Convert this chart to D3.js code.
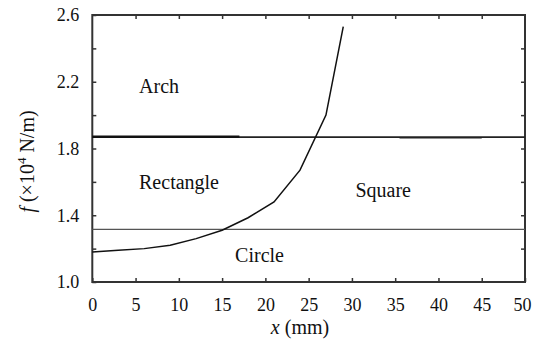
<!DOCTYPE html>
<html>
<head>
<meta charset="utf-8">
<script src="https://cdn.jsdelivr.net/npm/d3@7"></script>
<style>
  body { margin: 0; background: #fff; }
  svg text { fill: #111; }
</style>
</head>
<body>
<script>
// force vs. displacement curve
let xs = [0, 3, 6, 9, 12, 15, 18, 21, 24, 27, 29];
let fs = [1.18, 1.19, 1.2, 1.22, 1.26, 1.31, 1.385, 1.48, 1.67, 2.0, 2.53];

// region boundaries
let upperBound = 1.868;
let lowerBound = 1.315;

// region labels
let regionNames = ["Arch", "Rectangle", "Square", "Circle"];
let regionX = [5.4, 5.4, 30.4, 16.5];
let regionY = [2.132, 1.555, 1.511, 1.122];

let xTicks = [0, 5, 10, 15, 20, 25, 30, 35, 40, 45, 50];
let yTicks = [1.0, 1.2, 1.4, 1.6, 1.8, 2.0, 2.2, 2.4, 2.6];
let yLabels = [1.0, 1.4, 1.8, 2.2, 2.6];

const W = 533, H = 342;
const mLeft = 92.3, mRight = 525, mTop = 15, mBottom = 282;
const serif = '"Liberation Serif", "Tinos", "Times New Roman", "DejaVu Serif", serif';

let svg = d3.select("body")
    .append("svg")
    .attr("width", W)
    .attr("height", H);

let x = d3.scaleLinear().domain([0, 50]).range([mLeft, mRight]);
let y = d3.scaleLinear().domain([1.0, 2.6]).range([mBottom, mTop]);

// axes with inward ticks
let axisColor = "#333";
svg.append("g")
    .attr("transform", `translate(0,${mBottom})`)
    .call(d3.axisBottom(x).tickValues(xTicks).tickSizeInner(-4).tickSizeOuter(0).tickPadding(16).tickFormat(d3.format("d")))
    .call(g => g.select(".domain").remove())
    .call(g => g.selectAll(".tick:last-of-type text").attr("dx", -3));
svg.append("g")
    .attr("transform", `translate(0,${mTop})`)
    .call(d3.axisTop(x).tickValues(xTicks.slice(1, -1)).tickSizeInner(-4).tickSizeOuter(0).tickFormat(""))
    .call(g => g.select(".domain").remove());
svg.append("g")
    .attr("transform", `translate(${mLeft},0)`)
    .call(d3.axisLeft(y).tickValues(yTicks).tickSizeInner(-4).tickSizeOuter(0).tickPadding(13)
        .tickFormat(d => yLabels.some(v => Math.abs(v - d) < 1e-9) ? d3.format(".1f")(d) : ""))
    .call(g => g.select(".domain").remove());
svg.append("g")
    .attr("transform", `translate(${mRight},0)`)
    .call(d3.axisRight(y).tickValues(yTicks.slice(1, -1)).tickSizeInner(-4).tickSizeOuter(0).tickFormat(""))
    .call(g => g.select(".domain").remove());

svg.selectAll("g").attr("font-family", serif);
svg.selectAll(".tick line").attr("stroke", axisColor).attr("stroke-width", 1.5);
svg.selectAll(".tick text")
    .attr("font-size", 18)
    .style("font-family", serif)
    .attr("fill", "#111");

// frame
svg.append("rect")
    .attr("x", mLeft).attr("y", mTop)
    .attr("width", mRight - mLeft).attr("height", mBottom - mTop)
    .attr("fill", "none")
    .attr("stroke", axisColor)
    .attr("stroke-width", 2);

// boundaries
svg.append("line")
    .attr("x1", x(0)).attr("x2", x(50))
    .attr("y1", y(upperBound)).attr("y2", y(upperBound))
    .attr("stroke", "#222").attr("stroke-width", 1.6);
svg.append("line")
    .attr("x1", x(0)).attr("x2", x(17))
    .attr("y1", y(upperBound + 0.002)).attr("y2", y(upperBound + 0.002))
    .attr("stroke", "#111").attr("stroke-width", 2.4);
svg.append("line")
    .attr("x1", x(35.5)).attr("x2", x(45))
    .attr("y1", y(upperBound - 0.004)).attr("y2", y(upperBound - 0.004))
    .attr("stroke", "#222").attr("stroke-width", 1.6);
svg.append("line")
    .attr("x1", x(0)).attr("x2", x(50))
    .attr("y1", y(lowerBound)).attr("y2", y(lowerBound))
    .attr("stroke", "#555").attr("stroke-width", 1.3);

// curve
let line = d3.line()
    .x((d, i) => x(xs[i]))
    .y(d => y(d));
svg.append("path")
    .datum(fs)
    .attr("d", line)
    .attr("fill", "none")
    .attr("stroke", "#111")
    .attr("stroke-width", 1.5);

// region labels
svg.append("g").selectAll("text")
    .data(regionNames)
    .enter()
    .append("text")
    .attr("x", (d, i) => x(regionX[i]))
    .attr("y", (d, i) => y(regionY[i]))
    .attr("font-size", 20)
    .style("font-family", serif)
    .text(d => d);

// axis titles
let xt = svg.append("text")
    .attr("x", 300).attr("y", 334)
    .attr("text-anchor", "middle")
    .attr("font-size", 20)
    .style("font-family", serif);
xt.append("tspan").attr("font-style", "italic").text("x");
xt.append("tspan").text(" (mm)");

let yt = svg.append("text")
    .attr("transform", `translate(34,${(mTop + mBottom) / 2 + 13}) rotate(-90)`)
    .attr("text-anchor", "middle")
    .attr("font-size", 20)
    .style("font-family", serif);
yt.append("tspan").attr("font-style", "italic").text("f");
yt.append("tspan").text(" (×10");
yt.append("tspan").attr("font-size", 13).attr("dy", -8).text("4");
yt.append("tspan").attr("dy", 8).text(" N/m)");
</script>
</body>
</html>
